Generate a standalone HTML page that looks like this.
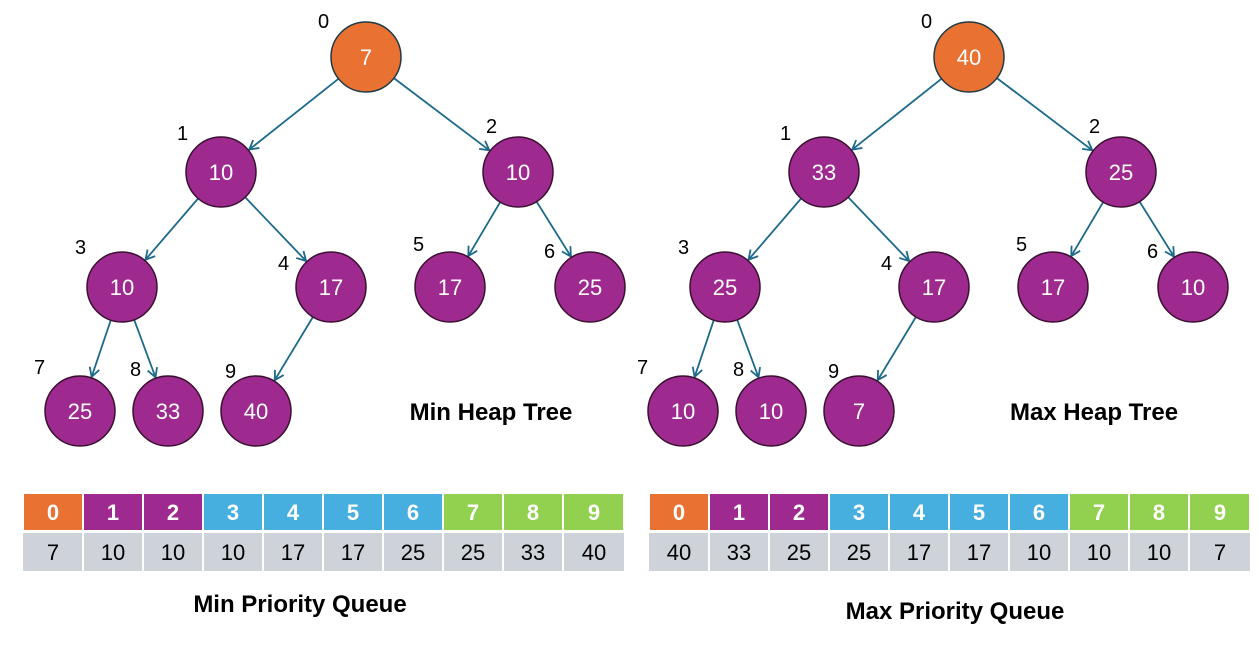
<!DOCTYPE html>
<html><head><meta charset="utf-8"><style>
html,body{margin:0;padding:0;background:#fff;}
svg{display:block;font-family:"Liberation Sans",sans-serif;}
</style></head><body>
<svg width="1259" height="656" viewBox="0 0 1259 656" xmlns="http://www.w3.org/2000/svg">
<defs>
<marker id="a" markerWidth="12" markerHeight="12" refX="10" refY="6" orient="auto" markerUnits="userSpaceOnUse">
<path d="M1,1 L10,6 L1,11" fill="none" stroke="#1d6a8a" stroke-width="1.8"/>
</marker>
<g id="edges" stroke="#1d6a8a" stroke-width="1.8" marker-end="url(#a)">
<line x1="338.6" y1="78.7" x2="249.2" y2="149.6"/>
<line x1="393.9" y1="78.1" x2="489.3" y2="150.3"/>
<line x1="198.1" y1="198.5" x2="145.5" y2="259.7"/>
<line x1="245.2" y1="197.3" x2="306.1" y2="261"/>
<line x1="500.2" y1="202.1" x2="468.3" y2="256"/>
<line x1="536.6" y1="201.6" x2="570.9" y2="256.5"/>
<line x1="110.8" y1="320.1" x2="91.6" y2="376.9"/>
<line x1="134.2" y1="319.8" x2="155.5" y2="377.3"/>
<line x1="312.9" y1="317" x2="274.7" y2="380.2"/>
</g>
<g id="circles" stroke="#3a1030" stroke-width="1.5">
<circle cx="366" cy="57" r="35" fill="#e97132" stroke="#1e3a46"/>
<circle cx="221" cy="172" r="35" fill="#9e2a8f"/>
<circle cx="518" cy="172" r="35" fill="#9e2a8f"/>
<circle cx="122" cy="287" r="35" fill="#9e2a8f"/>
<circle cx="331" cy="287" r="35" fill="#9e2a8f"/>
<circle cx="450" cy="287" r="35" fill="#9e2a8f"/>
<circle cx="590" cy="287" r="35" fill="#9e2a8f"/>
<circle cx="80" cy="411" r="35" fill="#9e2a8f"/>
<circle cx="168" cy="411" r="35" fill="#9e2a8f"/>
<circle cx="256" cy="411" r="35" fill="#9e2a8f"/>
</g>
<g id="idx" font-size="20" fill="#000">
<text x="318" y="28">0</text>
<text x="177" y="140">1</text>
<text x="486" y="133">2</text>
<text x="75" y="254">3</text>
<text x="278" y="270">4</text>
<text x="413" y="251">5</text>
<text x="544" y="258">6</text>
<text x="34" y="374">7</text>
<text x="130" y="376">8</text>
<text x="225" y="378">9</text>
</g>
</defs>

<use href="#edges"/><use href="#circles"/><use href="#idx"/>
<g transform="translate(603,0)"><use href="#edges"/><use href="#circles"/><use href="#idx"/></g>

<g font-size="22" fill="#fff" text-anchor="middle">
<text x="366" y="65">7</text>
<text x="221" y="180">10</text>
<text x="518" y="180">10</text>
<text x="122" y="295">10</text>
<text x="331" y="295">17</text>
<text x="450" y="295">17</text>
<text x="590" y="295">25</text>
<text x="80" y="419">25</text>
<text x="168" y="419">33</text>
<text x="256" y="419">40</text>
<text x="969" y="65">40</text>
<text x="824" y="180">33</text>
<text x="1121" y="180">25</text>
<text x="725" y="295">25</text>
<text x="934" y="295">17</text>
<text x="1053" y="295">17</text>
<text x="1193" y="295">10</text>
<text x="683" y="419">10</text>
<text x="771" y="419">10</text>
<text x="859" y="419">7</text>
</g>

<g font-size="24" font-weight="bold" fill="#000" text-anchor="middle">
<text x="491" y="420">Min Heap Tree</text>
<text x="1094" y="420">Max Heap Tree</text>
<text x="300" y="612">Min Priority Queue</text>
<text x="955" y="619">Max Priority Queue</text>
</g>

<g id="hdr" stroke="#fff" stroke-width="2">
<rect x="23" y="493" width="60" height="38" fill="#e97132"/>
<rect x="83" y="493" width="60" height="38" fill="#9e2a8f"/>
<rect x="143" y="493" width="60" height="38" fill="#9e2a8f"/>
<rect x="203" y="493" width="60" height="38" fill="#46afe0"/>
<rect x="263" y="493" width="60" height="38" fill="#46afe0"/>
<rect x="323" y="493" width="60" height="38" fill="#46afe0"/>
<rect x="383" y="493" width="60" height="38" fill="#46afe0"/>
<rect x="443" y="493" width="60" height="38" fill="#92d050"/>
<rect x="503" y="493" width="60" height="38" fill="#92d050"/>
<rect x="563" y="493" width="61" height="38" fill="#92d050"/>
<rect x="23" y="533" width="601" height="38" fill="#ced3da" stroke="none"/>
<line x1="83" y1="533" x2="83" y2="571"/><line x1="143" y1="533" x2="143" y2="571"/>
<line x1="203" y1="533" x2="203" y2="571"/><line x1="263" y1="533" x2="263" y2="571"/>
<line x1="323" y1="533" x2="323" y2="571"/><line x1="383" y1="533" x2="383" y2="571"/>
<line x1="443" y1="533" x2="443" y2="571"/><line x1="503" y1="533" x2="503" y2="571"/>
<line x1="563" y1="533" x2="563" y2="571"/>
</g>
<use href="#hdr" transform="translate(626,0)"/>

<g font-size="22" font-weight="bold" fill="#fff" text-anchor="middle">
<text x="53" y="520">0</text><text x="113" y="520">1</text><text x="173" y="520">2</text><text x="233" y="520">3</text><text x="293" y="520">4</text><text x="353" y="520">5</text><text x="413" y="520">6</text><text x="473" y="520">7</text><text x="533" y="520">8</text><text x="594" y="520">9</text>
<text x="679" y="520">0</text><text x="739" y="520">1</text><text x="799" y="520">2</text><text x="859" y="520">3</text><text x="919" y="520">4</text><text x="979" y="520">5</text><text x="1039" y="520">6</text><text x="1099" y="520">7</text><text x="1159" y="520">8</text><text x="1220" y="520">9</text>
</g>
<g font-size="22" fill="#000" text-anchor="middle">
<text x="53" y="560">7</text><text x="113" y="560">10</text><text x="173" y="560">10</text><text x="233" y="560">10</text><text x="293" y="560">17</text><text x="353" y="560">17</text><text x="413" y="560">25</text><text x="473" y="560">25</text><text x="533" y="560">33</text><text x="594" y="560">40</text>
<text x="679" y="560">40</text><text x="739" y="560">33</text><text x="799" y="560">25</text><text x="859" y="560">25</text><text x="919" y="560">17</text><text x="979" y="560">17</text><text x="1039" y="560">10</text><text x="1099" y="560">10</text><text x="1159" y="560">10</text><text x="1220" y="560">7</text>
</g>
</svg>
</body></html>
